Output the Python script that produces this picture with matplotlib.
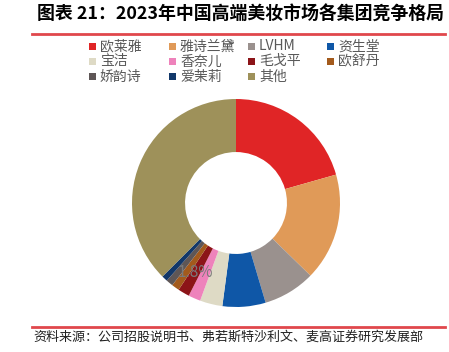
import matplotlib
matplotlib.use("Agg")
import matplotlib.pyplot as plt
from matplotlib.patches import Rectangle
import numpy as np

plt.rcParams['font.family'] = ['Noto Sans CJK SC', 'DejaVu Sans']

groups = ['欧莱雅', '雅诗兰黛', 'LVHM', '资生堂', '宝洁', '香奈儿',
          '毛戈平', '欧舒丹', '娇韵诗', '爱茉莉', '其他']
shares = [20.6, 16.7, 8.1, 6.7, 3.5, 1.9, 1.8, 1.2, 1.1, 0.9, 37.5]
colors = ['#E02526', '#E09A58', '#9A918E', '#0F57A7', '#DEDAC5', '#EE82BB',
          '#8C1418', '#A35A1C', '#5E5656', '#12386A', '#9E915A']
shown_label = '毛戈平'

W, H = 449, 352
fig = plt.figure(figsize=(W / 100, H / 100), dpi=100)

def fx(px):
    return px / W

def fy(py):
    return 1 - py / H

# title and rules
fig.text(fx(37), fy(15), '图表 21：2023年中国高端美妆市场各集团竞争格局',
         fontsize=12.9, fontweight='bold', va='center', ha='left')
fig.add_artist(plt.Line2D([fx(32), fx(445)], [fy(33.5), fy(33.5)], color='#E0474C', lw=2))
fig.add_artist(plt.Line2D([fx(32), fx(445)], [fy(326.5), fy(326.5)], color='#E0474C', lw=2))
fig.text(fx(33), fy(337), '资料来源：公司招股说明书、弗若斯特沙利文、麦高证券研究发展部',
         fontsize=9.4, va='center', ha='left', color='#222222')

# donut
cx, cy, R = 236, 203, 104
ax = fig.add_axes([fx(cx - R), fy(cy + R), fx(2 * R), 2 * R / H])
wedges, _ = ax.pie(shares, colors=colors, startangle=90, counterclock=False,
                   wedgeprops=dict(width=0.51, edgecolor='none'))
ax.set_xlim(-1, 1)
ax.set_ylim(-1, 1)
ax.set_aspect('equal')

# single visible data label
i = groups.index(shown_label)
mid = 90 - (sum(shares[:i]) + shares[i] / 2) / 100 * 360
r = 0.77
ax.text(r * np.cos(np.radians(mid)), r * np.sin(np.radians(mid)),
        f'{shares[i]:.1f}%', ha='center', va='center', fontsize=11, color='#7A7A7A')

# legend, row-major, equal column widths
col_x = [89, 169, 248, 327]
row_y = [46.5, 61.5, 76.5]
sq = 7
for k, (name, c) in enumerate(zip(groups, colors)):
    x0 = col_x[k % 4]
    y0 = row_y[k // 4]
    fig.add_artist(Rectangle((fx(x0), fy(y0 + sq / 2)), fx(sq), sq / H,
                             facecolor=c, edgecolor='none',
                             transform=fig.transFigure))
    fig.text(fx(x0 + 11), fy(y0), name, fontsize=10, va='center', ha='left',
             color='#595959')

fig.savefig('out.png', dpi=100)
